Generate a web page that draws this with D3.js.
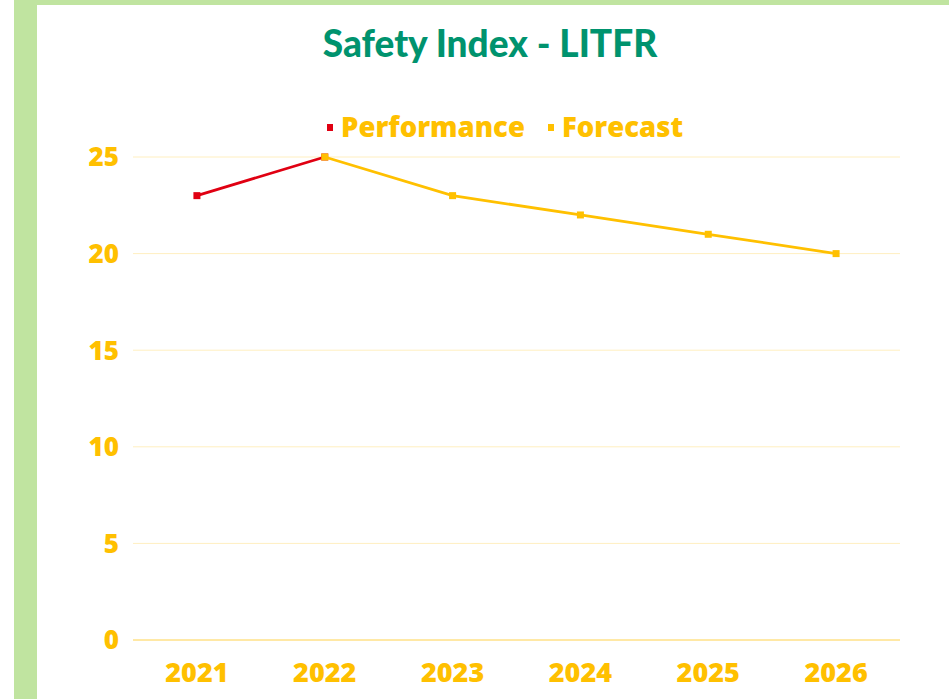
<!DOCTYPE html>
<meta charset="utf-8">
<style>
body { margin: 0; background: #fff; }
text { font-family: "Open Sans", sans-serif; font-weight: 800; }
</style>
<svg width="949" height="699"></svg>
<script src="https://d3js.org/d3.v7.min.js"></script>
<script>

var years = ["2021", "2022", "2023", "2024", "2025", "2026"];
var performance = [{year: "2021", value: 23}, {year: "2022", value: 25}];
var forecast = [
  {year: "2022", value: 25},
  {year: "2023", value: 23},
  {year: "2024", value: 22},
  {year: "2025", value: 21},
  {year: "2026", value: 20}
];
var yTicks = [0, 5, 10, 15, 20, 25];

var svg = d3.select("svg"),
    gold = "#FFC000",
    red = "#E00012";

// green frame
svg.append("rect").attr("x", 14).attr("y", 0).attr("width", 935).attr("height", 699).attr("fill", "#C0E4A0");
svg.append("rect").attr("x", 37).attr("y", 5).attr("width", 912).attr("height", 694).attr("fill", "#fff");

var x = d3.scaleBand().domain(years).range([133, 900]);
var y = d3.scaleLinear().domain([0, 25]).range([640, 157]);

// title
svg.append("text")
    .attr("x", 490).attr("y", 57)
    .attr("text-anchor", "middle")
    .style("font-family", "Lato, sans-serif")
    .style("font-weight", 900)
    .style("font-size", "37px")
    .attr("fill", "#00936E")
    .text("Safety Index - LITFR");

// gridlines
svg.append("g").selectAll("line")
  .data(yTicks)
  .enter().append("line")
    .attr("x1", 133).attr("x2", 900)
    .attr("y1", function(d) { return y(d); })
    .attr("y2", function(d) { return y(d); })
    .attr("stroke", function(d) { return d === 0 ? "#FFD24D" : "#FFEFC0"; })
    .attr("stroke-width", 1);

// y axis labels
svg.append("g").selectAll("text")
  .data(yTicks)
  .enter().append("text")
    .attr("x", 119)
    .attr("y", function(d) { return y(d); })
    .attr("dy", "0.36em")
    .attr("text-anchor", "end")
    .style("font-size", "26px")
    .attr("fill", gold)
    .text(function(d) { return d; });

// x axis labels
svg.append("g").selectAll("text")
  .data(years)
  .enter().append("text")
    .attr("x", function(d) { return x(d) + x.bandwidth() / 2; })
    .attr("y", 672)
    .attr("dy", "0.36em")
    .attr("text-anchor", "middle")
    .style("font-size", "27px")
    .attr("fill", gold)
    .text(function(d) { return d; });

var line = d3.line()
    .x(function(d) { return x(d.year) + x.bandwidth() / 2; })
    .y(function(d) { return y(d.value); });

function drawSeries(data, color) {
  svg.append("path")
      .datum(data)
      .attr("d", line)
      .attr("fill", "none")
      .attr("stroke", color)
      .attr("stroke-width", 2.8);
  svg.append("g").selectAll("rect")
    .data(data)
    .enter().append("rect")
      .attr("x", function(d) { return x(d.year) + x.bandwidth() / 2 - 3.5; })
      .attr("y", function(d) { return y(d.value) - 3.5; })
      .attr("width", 7).attr("height", 7)
      .attr("fill", color);
}

drawSeries(performance, red);
drawSeries(forecast, gold);

// legend
var legend = [{name: "Performance", color: red, x: 327}, {name: "Forecast", color: gold, x: 548}];
var lg = svg.append("g").selectAll("g")
  .data(legend)
  .enter().append("g")
    .attr("transform", function(d) { return "translate(" + d.x + ",127)"; });
lg.append("rect").attr("x", 0).attr("y", -3).attr("width", 6).attr("height", 7)
    .attr("fill", function(d) { return d.color; });
lg.append("text").attr("x", 14).attr("dy", "0.36em")
    .style("font-size", "27.5px")
    .attr("fill", gold)
    .text(function(d) { return d.name; });

</script>
